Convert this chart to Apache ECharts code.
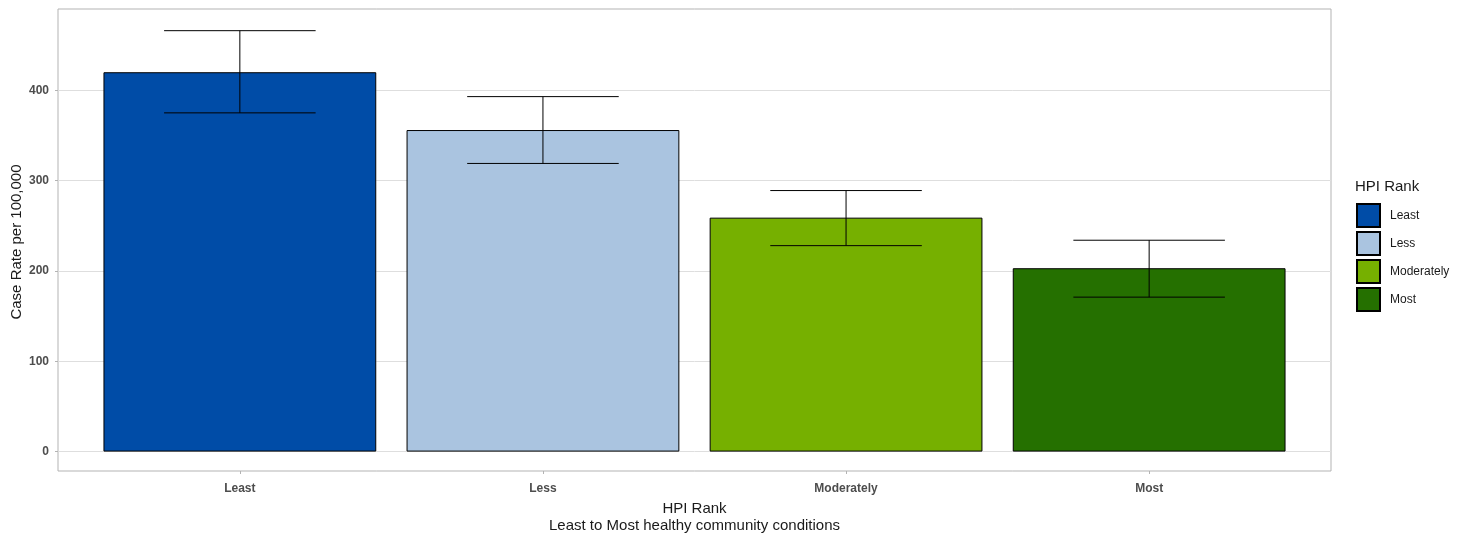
<!DOCTYPE html>
<html>
<head>
<meta charset="utf-8">
<script src="https://cdn.jsdelivr.net/npm/echarts@6/dist/echarts.min.js"></script>
<style>html,body{margin:0;padding:0;background:#fff;}#c{width:1471px;height:533px;}</style>
</head>
<body>
<div id="c"></div>
<script>
const categories = ['Least', 'Less', 'Moderately', 'Most'];
const rates = [420, 356, 259, 203];
const lower = [375, 319, 228, 171];
const upper = [466, 393, 289, 234];
const colors = ['#004ca7', '#aac4e0', '#76b000', '#257000'];
const yTicks = [0, 100, 200, 300, 400];
const yMin = -21.5, yMax = 490;

const FONT = '"Liberation Sans", Arial, sans-serif';
const panel = { left: 58, top: 9, width: 1273, height: 462 };
const unit = panel.width / 4.2;

const chart = echarts.init(document.getElementById('c'));

const barSeries = categories.map((name, i) => ({
  name: name,
  type: 'bar',
  xAxisIndex: 1,
  yAxisIndex: 1,
  stack: 'all',
  barWidth: '90%',
  itemStyle: { color: colors[i], borderColor: '#000', borderWidth: 1 },
  emphasis: { disabled: true },
  data: categories.map((c, j) => (j === i ? rates[i] : '-'))
}));

const errSeries = {
  type: 'custom',
  xAxisIndex: 1,
  yAxisIndex: 1,
  silent: true,
  z: 10,
  data: categories.map((c, i) => [i, lower[i], upper[i]]),
  renderItem: function (params, api) {
    const x = api.value(0);
    const lo = api.coord([x, api.value(1)]);
    const hi = api.coord([x, api.value(2)]);
    const half = api.size([1, 0])[0] * 0.25;
    const st = { stroke: '#000', lineWidth: 1 };
    return {
      type: 'group',
      children: [
        { type: 'line', shape: { x1: hi[0], y1: hi[1], x2: lo[0], y2: lo[1] }, style: st },
        { type: 'line', shape: { x1: hi[0] - half, y1: hi[1], x2: hi[0] + half, y2: hi[1] }, style: st },
        { type: 'line', shape: { x1: lo[0] - half, y1: lo[1], x2: lo[0] + half, y2: lo[1] }, style: st }
      ]
    };
  }
};

chart.setOption({
  animation: false,
  backgroundColor: '#fff',
  textStyle: { fontFamily: FONT },
  grid: [
    { left: panel.left, top: panel.top, width: panel.width, height: panel.height, show: true, borderColor: '#b3b3b3', borderWidth: 1, backgroundColor: 'transparent', containLabel: false, outerBoundsMode: 'none' },
    { left: panel.left + unit * 0.1, top: panel.top, width: unit * 4, height: panel.height, containLabel: false, outerBoundsMode: 'none' }
  ],
  xAxis: [
    { type: 'value', gridIndex: 0, min: 0, max: 1, show: false },
    {
      type: 'category', gridIndex: 1, data: categories, position: 'bottom',
      axisLine: { show: false, onZero: false },
      axisTick: { show: true, alignWithLabel: true, length: 3, lineStyle: { color: '#b3b3b3' } },
      axisLabel: { color: '#4d4d4d', fontWeight: 'bold', fontSize: 12, margin: 12, fontFamily: FONT },
      splitLine: { show: false },
      name: 'HPI Rank\nLeast to Most healthy community conditions',
      nameLocation: 'middle',
      nameGap: 29,
      nameTextStyle: { fontSize: 15, color: '#1a1a1a', lineHeight: 17, fontFamily: FONT }
    }
  ],
  yAxis: [
    {
      type: 'value', gridIndex: 0, min: yMin, max: yMax,
      axisLine: { show: false },
      axisTick: { show: true, length: 3, customValues: yTicks, lineStyle: { color: '#b3b3b3' } },
      axisLabel: { customValues: yTicks, color: '#4d4d4d', fontWeight: 'bold', fontSize: 12, margin: 9, fontFamily: FONT },
      splitLine: { show: true, lineStyle: { color: '#dedede', width: 1 } }
    },
    { type: 'value', gridIndex: 1, min: yMin, max: yMax, show: false, splitLine: { show: false } }
  ],
  legend: {
    orient: 'vertical',
    left: 1356,
    top: 203,
    padding: 0,
    icon: 'rect',
    itemWidth: 23,
    itemHeight: 23,
    itemGap: 3,
    data: categories,
    selectedMode: false,
    textStyle: { fontSize: 12, color: '#1a1a1a', fontFamily: FONT, padding: [0, 0, 0, 5] }
  },
  graphic: [
    { type: 'text', left: 1355, top: 179, style: { text: 'HPI Rank', fontSize: 15, fill: '#1a1a1a', fontFamily: FONT } },
    { type: 'text', x: 17, y: 242, rotation: Math.PI / 2, style: { text: 'Case Rate per 100,000', fontSize: 15, fill: '#1a1a1a', fontFamily: FONT, align: 'center', verticalAlign: 'middle' } }
  ],
  series: barSeries.concat([errSeries])
});
</script>
</body>
</html>
